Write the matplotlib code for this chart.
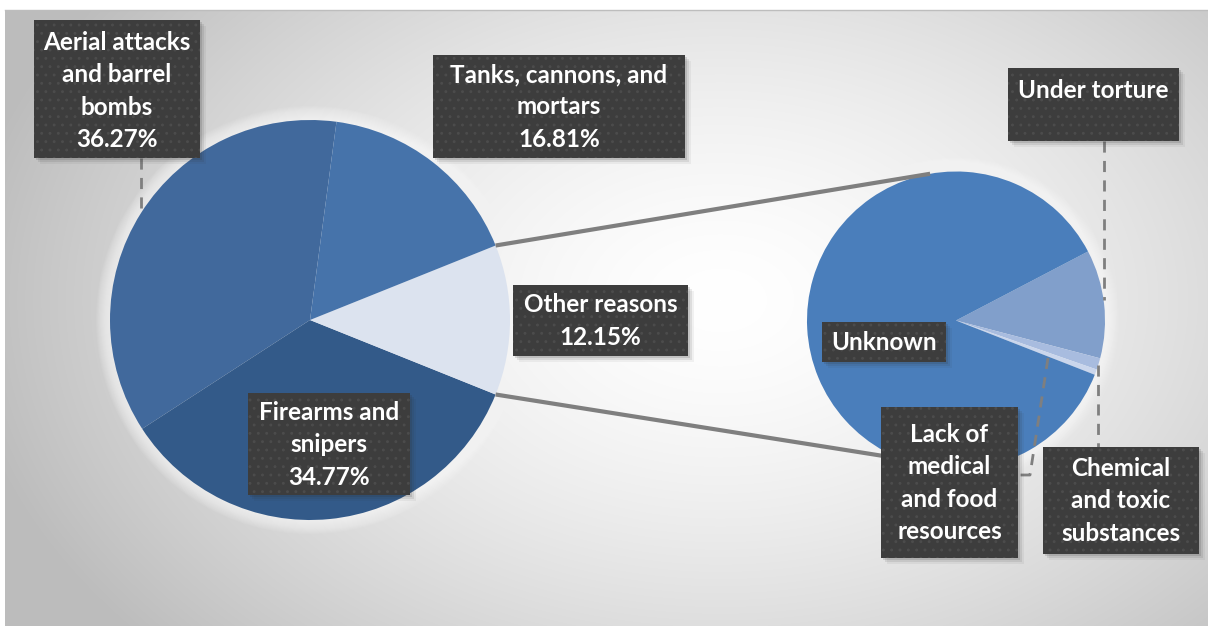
import numpy as np
import matplotlib.pyplot as plt
from matplotlib.patches import Rectangle, Circle

plt.rcParams['font.family'] = ['Lato', 'DejaVu Sans']
plt.rcParams['hatch.linewidth'] = 0.9

# main pie (percent of all deaths), drawn counter-clockwise
main_labels = ['Aerial attacks\nand barrel\nbombs', 'Firearms and\nsnipers',
               'Other reasons', 'Tanks, cannons, and\nmortars']
main_values = [36.27, 34.77, 12.15, 16.81]
main_colors = ['#41699c', '#335a89', '#dce3ef', '#4673aa']

# breakdown of "Other reasons" (share of that slice), drawn clockwise
sub_labels = ['Under torture', 'Lack of\nmedical\nand food\nresources',
              'Chemical\nand toxic\nsubstances', 'Unknown']
sub_values = [11.75, 1.25, 0.6, 86.4]
sub_colors = ['#819fcb', '#a8bcdf', '#cad6ec', '#4a7ebb']

W, H = 1208, 627

# layout in pixel coords (y down)
main_c, main_r = (310, 320), 200
sub_c, sub_r = (956, 320.5), 149
main_boxes = [(34, 20, 200, 158), (248, 393, 410, 495), (513, 285, 688, 356), (433, 55, 685, 158)]
main_text_y = [91, 445, 321, 107]
sub_boxes = [(1008, 68, 1179, 141), (881, 407, 1018, 558), (1043, 447, 1199, 554), (822, 322, 946, 362)]
sub_text_y = [90, 483, 501, 343]

fig = plt.figure(figsize=(W / 100, H / 100), dpi=100)
ax = fig.add_axes([0, 0, 1, 1])


def py(y):
    return H - y


# background: radial gradient
yy, xx = np.mgrid[10:626, 5:W]
d = np.hypot((xx - 720) / 760, (yy - 300) / 520)
g = 1 - 0.26 * np.clip(d, 0, 1) ** 1.5
ax.imshow(np.dstack([g, g, g]), extent=(5, W, py(626), py(10)), origin='upper', zorder=0)
ax.plot([5, W], [py(10), py(10)], color='#bdbdbd', lw=1, zorder=1)

# soft white glow behind the pies
for c, r in [(main_c, main_r), (sub_c, sub_r)]:
    for k in range(14, 0, -1):
        ax.add_patch(Circle((c[0], py(c[1])), r + k, color='white', alpha=0.07, lw=0, zorder=1))

# start angle so that "Other reasons" is centred on 0 degrees
before = sum(main_values[:2]) / sum(main_values) * 360
start = -(before + main_values[2] / sum(main_values) * 180)

wm, _ = ax.pie(main_values, colors=main_colors, startangle=start, counterclock=True,
               center=(main_c[0], py(main_c[1])), radius=main_r, frame=True,
               wedgeprops=dict(lw=0))
ws, _ = ax.pie(sub_values, colors=sub_colors, startangle=27.6, counterclock=False,
               center=(sub_c[0], py(sub_c[1])), radius=sub_r, frame=True,
               wedgeprops=dict(lw=0))

# connector lines between the two pies
other = wm[2]
for a_main, a_sub in [(other.theta2, 100), (other.theta1, 248)]:
    x0 = main_c[0] + main_r * np.cos(np.radians(a_main))
    y0 = py(main_c[1]) + main_r * np.sin(np.radians(a_main))
    x1 = sub_c[0] + sub_r * np.cos(np.radians(a_sub))
    y1 = py(sub_c[1]) + sub_r * np.sin(np.radians(a_sub))
    ax.plot([x0, x1], [y0, y1], color='#7f7f7f', lw=3, solid_capstyle='butt', zorder=3)

# leader lines
lead = dict(color='#7f7f7f', lw=2, ls=(0, (4, 3)), zorder=3)
ax.plot([141, 141], [py(158), py(214)], **lead)
ax.plot([1104, 1104], [py(141), py(300)], **lead)
ax.plot([1098, 1098], [py(365), py(447)], **lead)
ax.plot([1048, 1030, 1018], [py(358), py(475), py(475)], **lead)


def label_box(box, text, ty):
    x0, y0, x1, y1 = box
    for k, a in [(6, 0.06), (4, 0.1), (2, 0.15)]:
        ax.add_patch(Rectangle((x0 + k, py(y1) - k), x1 - x0, y1 - y0, color='#303030',
                               alpha=a, lw=0, zorder=4))
    ax.add_patch(Rectangle((x0, py(y1)), x1 - x0, y1 - y0, facecolor='#3d3d3d',
                           edgecolor='#4c4c4c', hatch='..', lw=0, zorder=5))
    ax.text((x0 + x1) / 2, py(ty), text, color='white', fontsize=17.5, fontweight='bold',
            ha='center', va='center', linespacing=1.5, zorder=6)


pct = [v / sum(main_values) * 100 for v in main_values]
for lab, p, box, ty in zip(main_labels, pct, main_boxes, main_text_y):
    label_box(box, f'{lab}\n{p:.2f}%', ty)
for lab, box, ty in zip(sub_labels, sub_boxes, sub_text_y):
    label_box(box, lab, ty)

ax.set_xlim(0, W)
ax.set_ylim(0, H)
ax.set_aspect('auto')
ax.axis('off')
fig.savefig('out.png', dpi=100, facecolor='white')
